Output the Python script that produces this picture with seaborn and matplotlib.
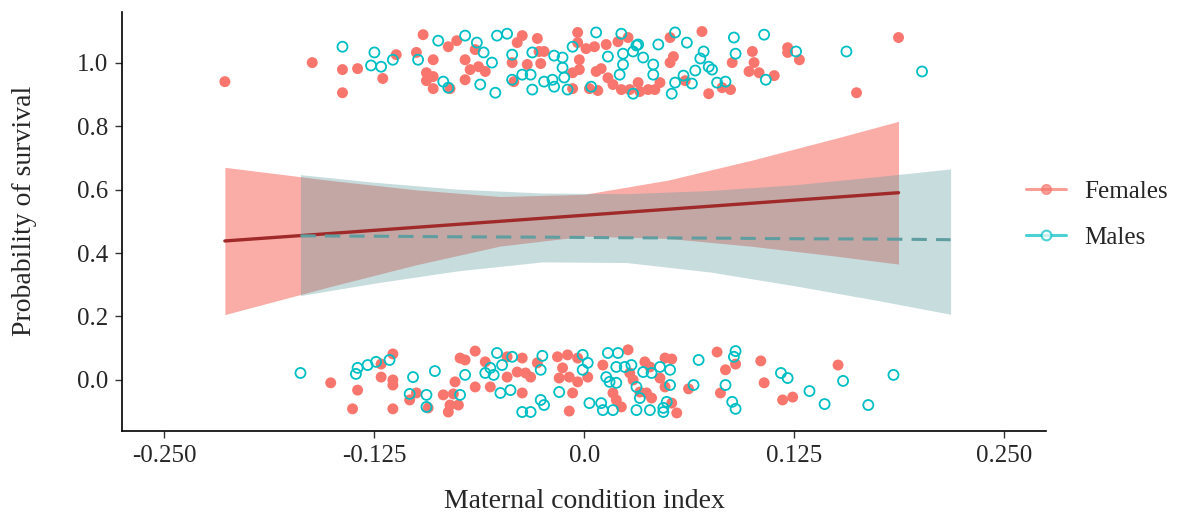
import numpy as np
import pandas as pd
import matplotlib
matplotlib.use("Agg")
import matplotlib.pyplot as plt
import seaborn as sns
from matplotlib.lines import Line2D

# jittered observations (survived = ~1, died = ~0)
fem_top_x = [-0.214, -0.162, -0.144, -0.135, -0.144, -0.120, -0.112, -0.100, -0.096, -0.090,
             -0.094, -0.094, -0.090, -0.090, -0.080, -0.081, -0.076, -0.071, -0.065, -0.068,
             -0.063, -0.059, -0.071, -0.043, -0.042, -0.040, -0.037, -0.034, -0.028, -0.027,
             -0.026, -0.024, -0.007, -0.004, -0.004, -0.003, -0.007, -0.003, 0.001, 0.003,
             0.007, 0.006, 0.013, 0.020, 0.026, 0.010, 0.014, 0.017, 0.008, 0.022,
             0.027, 0.032, 0.033, 0.038, 0.042, 0.045, 0.051, 0.051, 0.053, 0.060,
             0.070, 0.074, 0.082, 0.087, 0.088, 0.100, 0.101, 0.098, 0.104, 0.113,
             0.121, 0.121, 0.128, 0.162, 0.187]
fem_top_y = [0.940, 1.000, 0.978, 0.981, 0.905, 0.950, 1.025, 1.032, 1.088, 1.009,
             0.968, 0.943, 0.956, 0.918, 0.918, 1.050, 1.069, 1.009, 1.041, 0.978,
             0.987, 0.972, 0.946, 1.000, 0.940, 1.063, 1.085, 0.994, 1.076, 1.035,
             0.997, 1.035, 0.918, 1.095, 1.063, 1.009, 0.968, 0.978, 1.044, 0.918,
             0.972, 1.050, 1.057, 1.066, 1.079, 0.981, 0.952, 0.931, 0.912, 0.915,
             0.915, 0.937, 0.909, 0.915, 0.915, 0.937, 1.079, 1.000, 1.019, 0.943,
             1.098, 0.902, 0.921, 0.915, 1.000, 1.035, 1.000, 0.972, 0.968, 0.959,
             1.047, 1.032, 1.009, 0.905, 1.079]

fem_bot_x = [-0.114, -0.121, -0.121, -0.114, -0.114, -0.151, -0.135, -0.138, -0.114, -0.100,
             -0.104, -0.093, -0.084, -0.078, -0.080, -0.075, -0.081, -0.077, -0.074, -0.071,
             -0.065, -0.065, -0.059, -0.056, -0.046, -0.046, -0.037, -0.040, -0.035, -0.032,
             -0.037, -0.028, -0.016, -0.010, -0.004, -0.013, -0.015, -0.009, -0.004, 0.002,
             -0.007, -0.009, 0.011, 0.026, 0.027, 0.029, 0.036, 0.039, 0.017, 0.019,
             0.022, 0.033, 0.037, 0.040, 0.045, 0.048, 0.048, 0.052, 0.062, 0.052,
             0.055, 0.079, 0.084, 0.090, 0.081, 0.105, 0.107, 0.118, 0.124, 0.151]
fem_bot_y = [0.082, 0.050, 0.009, 0.000, -0.016, -0.009, -0.032, -0.091, -0.091, -0.041,
             -0.063, -0.088, -0.047, -0.044, -0.079, -0.079, -0.101, -0.006, 0.069, 0.063,
             0.091, -0.022, 0.057, -0.022, 0.073, 0.009, 0.069, 0.025, 0.022, 0.009,
             -0.041, 0.054, 0.073, 0.079, 0.069, 0.038, 0.006, 0.009, -0.006, 0.009,
             -0.041, -0.098, 0.047, 0.095, 0.022, 0.000, 0.057, 0.041, -0.041, -0.063,
             -0.085, -0.038, -0.041, -0.057, 0.006, 0.069, -0.022, 0.066, -0.028, -0.073,
             -0.104, 0.088, 0.032, 0.050, -0.041, 0.060, -0.009, -0.063, -0.054, 0.047]

mal_top_x = [-0.144, -0.125, -0.127, -0.121, -0.114, -0.099, -0.087, -0.071, -0.064, -0.060,
             -0.055, -0.062, -0.053, -0.084, -0.081, -0.052, -0.046, -0.043, -0.043, -0.037,
             -0.032, -0.031, -0.031, -0.018, -0.013, -0.013, -0.024, -0.019, -0.018, -0.012,
             -0.010, -0.007, 0.007, 0.022, 0.014, 0.023, 0.023, 0.029, 0.031, 0.032,
             0.035, 0.021, 0.004, 0.029, 0.041, 0.041, 0.044, 0.054, 0.061, 0.071,
             0.069, 0.066, 0.059, 0.054, 0.064, 0.052, 0.074, 0.076, 0.079, 0.084,
             0.089, 0.090, 0.107, 0.108, 0.126, 0.156, 0.201]
mal_top_y = [1.050, 1.032, 0.991, 0.987, 1.009, 1.009, 1.069, 1.085, 1.063, 1.032,
             1.000, 0.931, 0.905, 0.940, 0.921, 1.085, 1.091, 1.025, 0.946, 0.962,
             0.962, 0.915, 1.032, 1.022, 1.016, 0.984, 0.940, 0.946, 0.924, 0.953,
             0.915, 1.050, 1.095, 1.091, 1.019, 1.028, 0.994, 1.035, 1.054, 1.057,
             1.016, 0.962, 0.924, 0.902, 0.994, 0.962, 1.057, 1.095, 1.063, 1.035,
             1.013, 0.975, 0.959, 0.937, 0.934, 0.902, 0.987, 0.978, 0.937, 0.940,
             1.079, 1.028, 1.088, 0.946, 1.035, 1.035, 0.972]

mal_bot_x = [-0.169, -0.135, -0.136, -0.129, -0.124, -0.116, -0.102, -0.089, -0.104, -0.094,
             -0.094, -0.071, -0.074, -0.052, -0.049, -0.043, -0.025, -0.056, -0.059, -0.054,
             -0.026, -0.001, 0.002, -0.001, -0.015, -0.026, -0.024, -0.037, -0.032, -0.044,
             -0.050, 0.014, 0.020, 0.019, 0.024, 0.028, 0.013, 0.015, 0.019, 0.003,
             0.010, 0.011, 0.017, 0.031, 0.033, 0.031, 0.039, 0.035, 0.040, 0.047,
             0.045, 0.051, 0.051, 0.049, 0.047, 0.065, 0.068, 0.090, 0.089, 0.084,
             0.088, 0.090, 0.117, 0.121, 0.134, 0.143, 0.154, 0.169, 0.184]
mal_bot_y = [0.022, 0.038, 0.019, 0.047, 0.057, 0.063, 0.009, 0.028, -0.044, -0.047,
             -0.085, 0.016, -0.047, 0.085, 0.047, 0.073, 0.076, 0.038, 0.022, 0.016,
             0.032, 0.079, 0.054, 0.032, -0.038, -0.063, -0.079, -0.101, -0.101, -0.032,
             -0.041, 0.085, 0.085, 0.041, 0.041, 0.047, 0.009, -0.006, -0.009, -0.073,
             -0.073, -0.095, -0.095, -0.022, -0.057, -0.095, -0.095, 0.025, 0.022, -0.088,
             0.041, 0.032, -0.016, -0.069, -0.101, -0.016, 0.063, 0.091, 0.073, -0.016,
             -0.069, -0.091, 0.022, 0.006, -0.035, -0.076, -0.003, -0.079, 0.016]

# fitted probabilities with confidence bands
fem_fit_x = [-0.214, -0.150, -0.100, -0.050, 0.000, 0.050, 0.100, 0.150, 0.187]
fem_fit = [0.438, 0.462, 0.481, 0.500, 0.519, 0.538, 0.557, 0.576, 0.590]
fem_lo = [0.206, 0.296, 0.363, 0.422, 0.453, 0.446, 0.421, 0.390, 0.365]
fem_hi = [0.670, 0.628, 0.599, 0.578, 0.585, 0.630, 0.693, 0.762, 0.815]

mal_fit_x = [-0.169, -0.125, -0.075, -0.025, 0.025, 0.075, 0.125, 0.175, 0.218]
mal_fit = [0.454, 0.453, 0.451, 0.450, 0.448, 0.447, 0.445, 0.444, 0.442]
mal_lo = [0.266, 0.305, 0.344, 0.372, 0.370, 0.340, 0.297, 0.250, 0.207]
mal_hi = [0.647, 0.623, 0.601, 0.589, 0.587, 0.597, 0.615, 0.641, 0.665]

x_ticks = [-0.25, -0.125, 0.0, 0.125, 0.25]
x_tick_labels = ["-0.250", "-0.125", "0.0", "0.125", "0.250"]
y_ticks = [0.0, 0.2, 0.4, 0.6, 0.8, 1.0]
y_tick_labels = ["0.0", "0.2", "0.4", "0.6", "0.8", "1.0"]

fem_col = "#F8766D"
mal_col = "#00BFC4"

pts = pd.concat([
    pd.DataFrame({"x": fem_top_x + fem_bot_x, "y": fem_top_y + fem_bot_y, "sex": "Females"}),
    pd.DataFrame({"x": mal_top_x + mal_bot_x, "y": mal_top_y + mal_bot_y, "sex": "Males"}),
])
fits = pd.concat([
    pd.DataFrame({"x": fem_fit_x, "fit": fem_fit, "lo": fem_lo, "hi": fem_hi, "sex": "Females"}),
    pd.DataFrame({"x": mal_fit_x, "fit": mal_fit, "lo": mal_lo, "hi": mal_hi, "sex": "Males"}),
])

sns.set_style("white")
plt.rcParams["font.family"] = ["Liberation Serif", "DejaVu Serif"]

fig = plt.figure(figsize=(11.77, 5.14), dpi=100)
ax = fig.add_axes([0.104, 0.162, 0.785, 0.815])

f = fits[fits.sex == "Females"]
m = fits[fits.sex == "Males"]
ax.fill_between(f.x, f.lo, f.hi, color=fem_col, alpha=0.6, lw=0, zorder=1)
ax.fill_between(m.x, m.lo, m.hi, color="#5F9EA0", alpha=0.35, lw=0, zorder=2)
sns.lineplot(data=f, x="x", y="fit", color="#A02A2A", lw=2.4, ax=ax, zorder=3)
sns.lineplot(data=m, x="x", y="fit", color="#5F9EA0", lw=2.2, ax=ax, zorder=3,
             linestyle=(0, (5, 3)))

sns.scatterplot(data=pts[pts.sex == "Females"], x="x", y="y", color=fem_col,
                s=62, edgecolor="none", ax=ax, zorder=4)
sns.scatterplot(data=pts[pts.sex == "Males"], x="x", y="y", facecolor="none",
                edgecolor=mal_col, linewidth=1.3, s=52, ax=ax, zorder=4)

ax.set_xlim(-0.275, 0.275)
ax.set_ylim(-0.16, 1.16)
ax.set_xticks(x_ticks)
ax.set_xticklabels(x_tick_labels)
ax.set_yticks(y_ticks)
ax.set_yticklabels(y_tick_labels)
ax.tick_params(labelsize=18, length=5, width=1, color="#333333", direction="out",
               bottom=True, left=True, pad=5)
ax.set_xlabel("Maternal condition index", fontsize=20, labelpad=16)
ax.set_ylabel("Probability of survival", fontsize=20)
ax.yaxis.set_label_coords(-0.092, 0.525)
sns.despine(ax=ax)
for sp in ["left", "bottom"]:
    ax.spines[sp].set_color("black")
    ax.spines[sp].set_linewidth(1.2)

handles = [
    Line2D([], [], color=fem_col, alpha=0.7, lw=2.2, marker="o", markersize=7,
           markerfacecolor=fem_col, markeredgecolor=fem_col),
    Line2D([], [], color=mal_col, alpha=0.7, lw=2.2, marker="o", markersize=7,
           markerfacecolor="white", markeredgecolor=mal_col, markeredgewidth=1.5),
]
fig.legend(handles, ["Females", "Males"], loc="center left",
           bbox_to_anchor=(0.872, 0.582), frameon=False, fontsize=18, borderpad=0,
           borderaxespad=0, handlelength=1.6, handletextpad=0.7, labelspacing=0.95)

fig.savefig("out.png", dpi=100)
